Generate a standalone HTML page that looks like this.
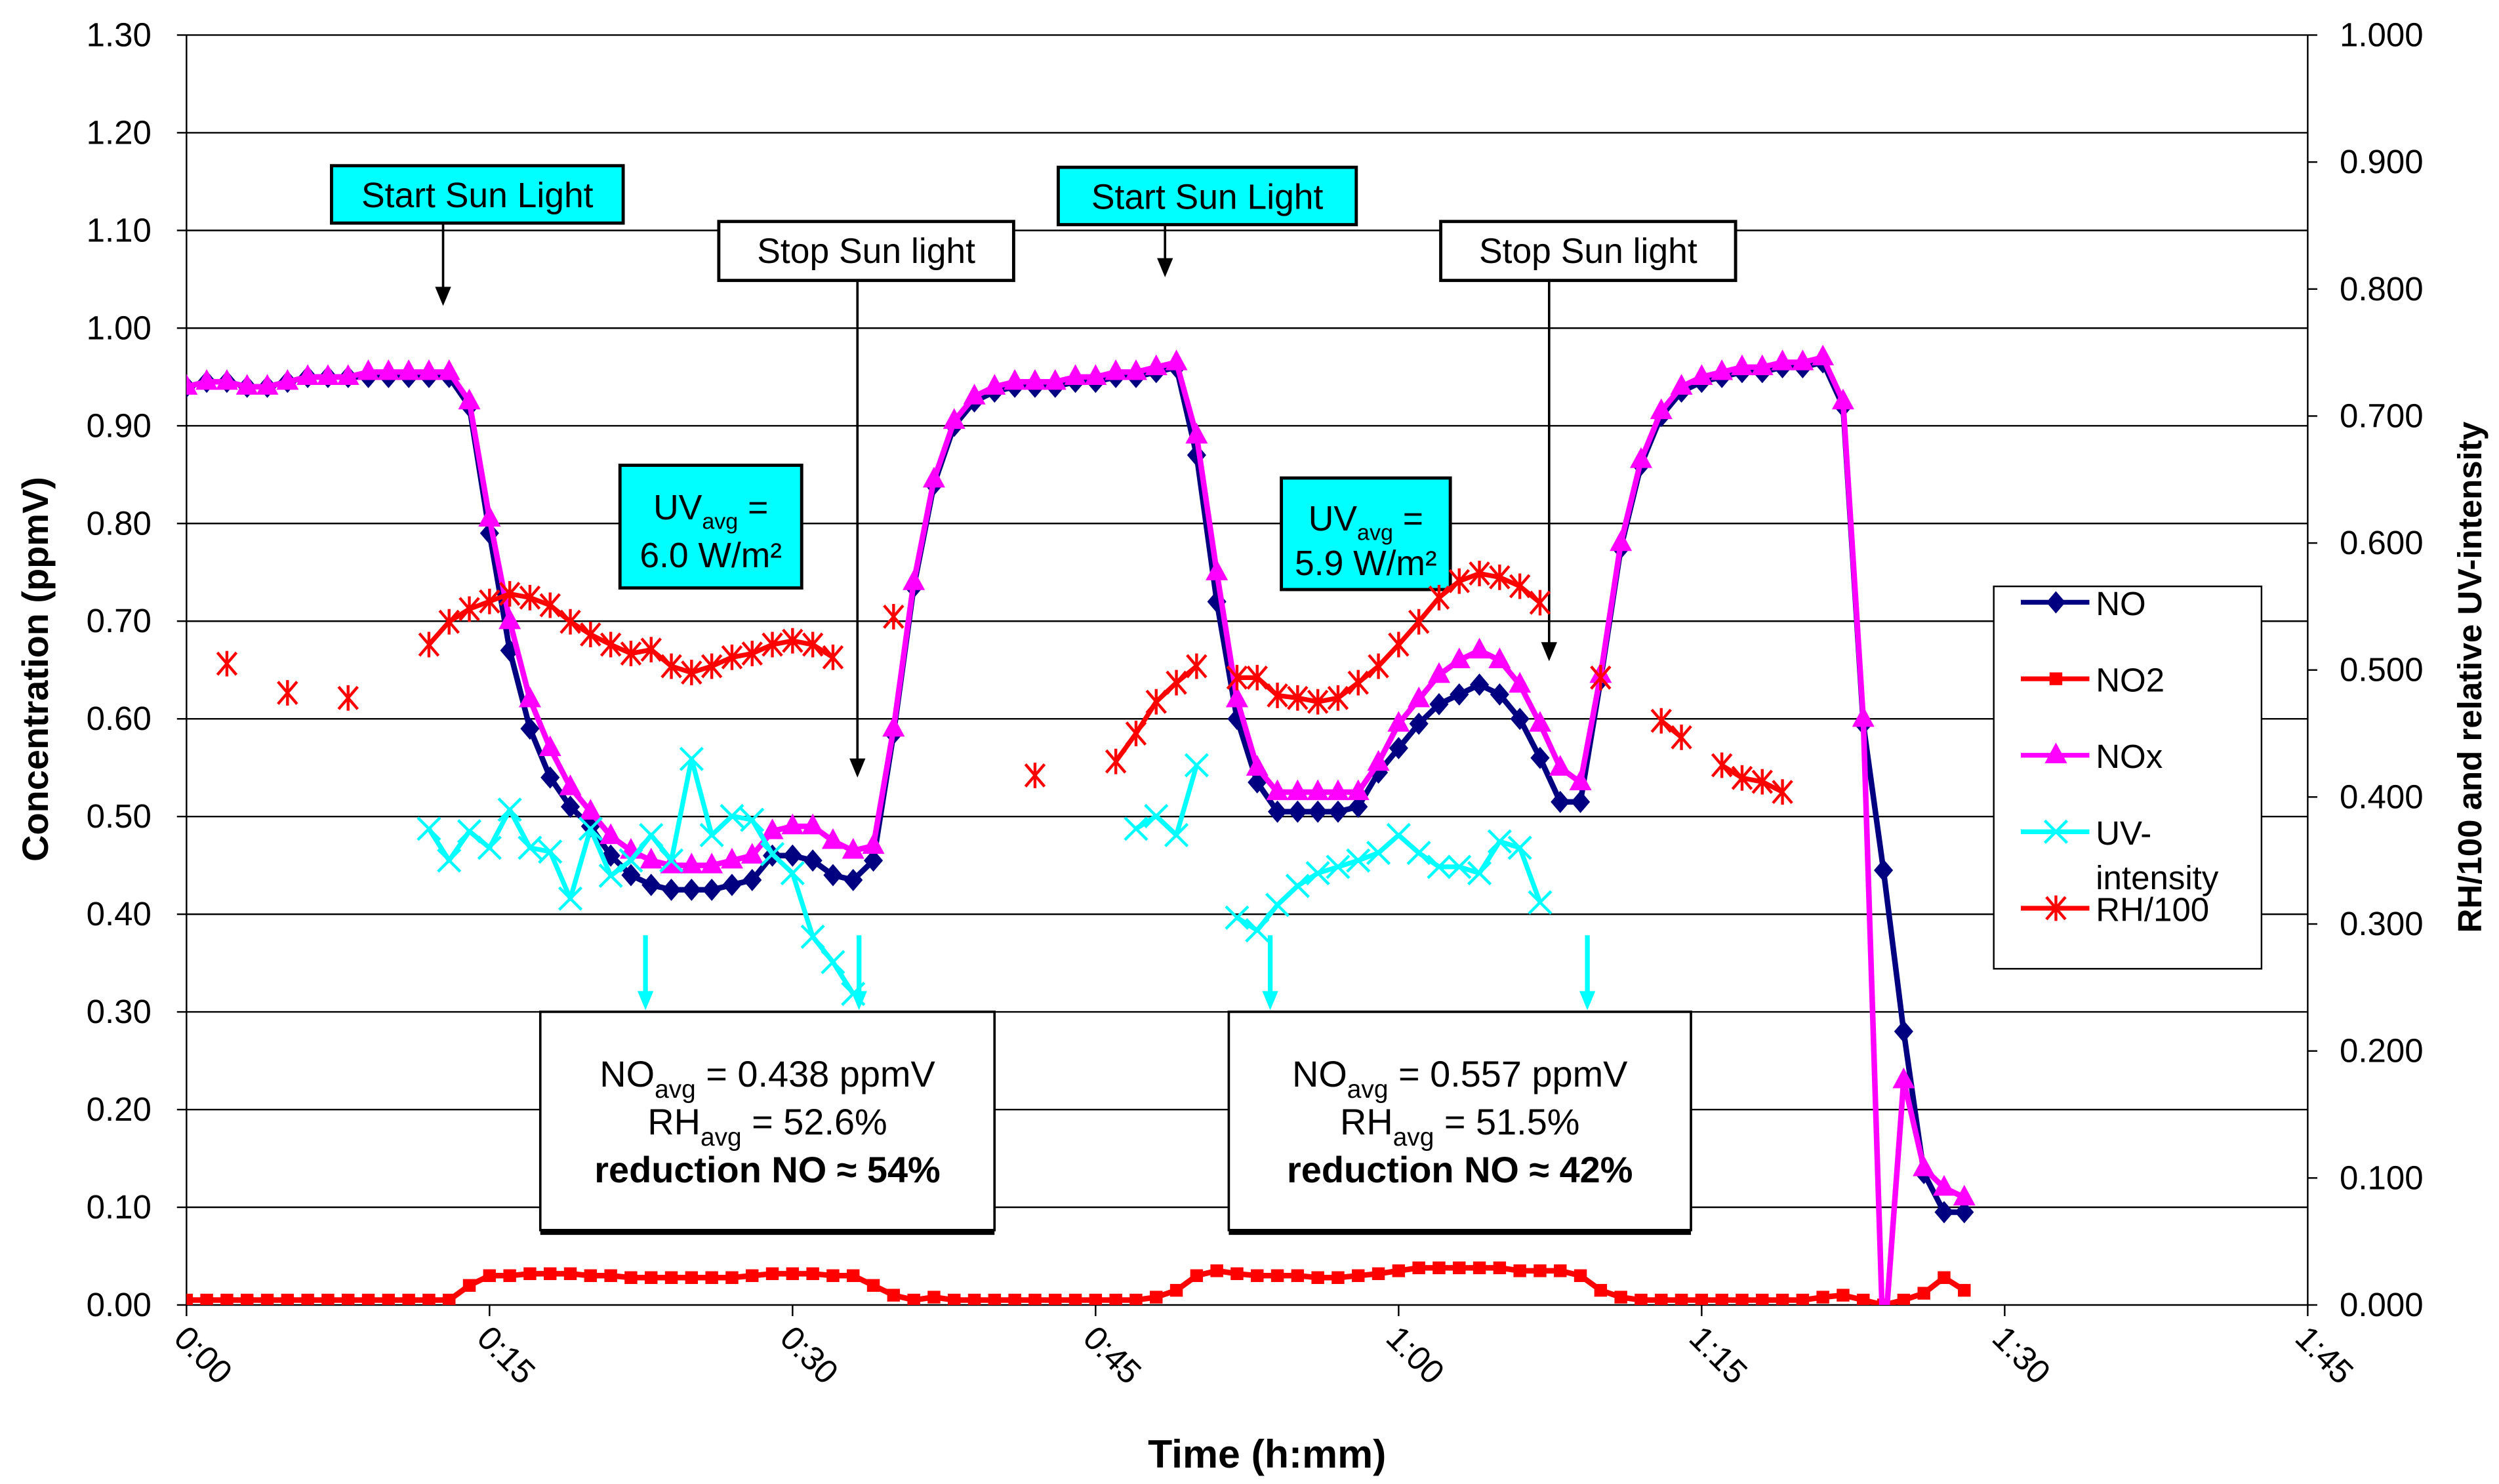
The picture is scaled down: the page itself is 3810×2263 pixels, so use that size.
<!DOCTYPE html>
<html><head><meta charset="utf-8"><style>
html,body{margin:0;padding:0;background:#fff;}
svg{display:block;font-family:"Liberation Sans",Arial,sans-serif;}
</style></head><body>
<svg id="chart" width="3810" height="2263" viewBox="0 0 1568 931.36" xmlns="http://www.w3.org/2000/svg">
<defs><clipPath id="pc"><rect x="117" y="22" width="1331" height="797"/></clipPath></defs>
<g id="grid"></g>
<g id="axes"></g>
<g id="annot"></g>
<g id="series" clip-path="url(#pc)"></g>
<text transform="translate(30,420) rotate(-90)" text-anchor="middle" font-size="23" font-weight="bold">Concentration (ppmV)</text>
<text transform="translate(1557,425) rotate(-90)" text-anchor="middle" font-size="21" font-weight="bold">RH/100 and relative UV-intensity</text>
<text x="795" y="921" text-anchor="middle" font-size="25" font-weight="bold">Time (h:mm)</text>
<g>
<rect x="1251" y="368" width="168" height="240" fill="#fff" stroke="#000" stroke-width="1"/>
<g id="leg"></g>
</g>
</svg>
<script>
const times = Array.from({length:89},(_,i)=>i);
const noVals = [0.94,0.945,0.945,0.94,0.94,0.945,0.95,0.95,0.95,0.95,0.95,0.95,0.95,0.95,0.92,0.79,0.67,0.59,0.54,0.51,0.49,0.46,0.44,0.43,0.425,0.425,0.425,0.43,0.435,0.46,0.46,0.455,0.44,0.435,0.455,0.585,0.735,0.84,0.9,0.925,0.935,0.94,0.94,0.94,0.945,0.945,0.95,0.95,0.955,0.96,0.87,0.72,0.6,0.535,0.505,0.505,0.505,0.505,0.51,0.545,0.57,0.595,0.615,0.625,0.635,0.625,0.6,0.56,0.515,0.515,0.64,0.775,0.86,0.91,0.935,0.945,0.95,0.955,0.955,0.96,0.96,0.965,0.92,0.595,0.445,0.28,0.135,0.095,0.095];
const noxVals = [0.94,0.945,0.945,0.94,0.94,0.945,0.95,0.95,0.95,0.955,0.955,0.955,0.955,0.955,0.925,0.805,0.7,0.62,0.57,0.53,0.505,0.48,0.465,0.455,0.45,0.45,0.45,0.455,0.46,0.485,0.49,0.49,0.475,0.465,0.47,0.59,0.74,0.845,0.905,0.93,0.94,0.945,0.945,0.945,0.95,0.95,0.955,0.955,0.96,0.965,0.89,0.75,0.62,0.55,0.525,0.525,0.525,0.525,0.525,0.555,0.595,0.62,0.645,0.66,0.67,0.66,0.635,0.595,0.55,0.535,0.645,0.78,0.865,0.915,0.94,0.95,0.955,0.96,0.96,0.965,0.965,0.97,0.925,0.6,-0.05,0.23,0.14,0.12,0.11];
const no2Vals = [0.005,0.005,0.005,0.005,0.005,0.005,0.005,0.005,0.005,0.005,0.005,0.005,0.005,0.005,0.02,0.03,0.03,0.032,0.032,0.032,0.03,0.03,0.028,0.028,0.028,0.028,0.028,0.028,0.03,0.032,0.032,0.032,0.03,0.03,0.02,0.01,0.005,0.008,0.005,0.005,0.005,0.005,0.005,0.005,0.005,0.005,0.005,0.005,0.008,0.015,0.03,0.035,0.032,0.03,0.03,0.03,0.028,0.028,0.03,0.032,0.035,0.038,0.038,0.038,0.038,0.038,0.035,0.035,0.035,0.03,0.015,0.008,0.005,0.005,0.005,0.005,0.005,0.005,0.005,0.005,0.005,0.008,0.01,0.005,0,0.005,0.012,0.028,0.015];
const uvVals = [null,null,null,null,null,null,null,null,null,null,null,null,0.375,0.35,0.373,0.36,0.39,0.36,0.357,0.32,0.375,0.338,0.35,0.37,0.35,0.43,0.37,0.385,0.382,0.355,0.34,0.29,0.27,0.245,null,null,null,null,null,null,null,null,null,null,null,null,null,0.375,0.385,0.37,0.425,null,0.305,0.295,0.315,0.33,0.34,0.345,0.35,0.356,0.37,0.356,0.345,0.345,0.34,0.365,0.36,0.317,null,null,null,null,null,null,null,null,null,null,null,null,null,null,null,null,null,null,null,null,null];
const rhVals = [null,null,0.505,null,null,0.482,null,null,0.478,null,null,null,0.52,0.538,0.548,0.554,0.56,0.557,0.551,0.538,0.528,0.52,0.513,0.516,0.503,0.498,0.503,0.51,0.513,0.52,0.523,0.52,0.51,null,null,0.542,null,null,null,null,null,null,0.417,null,null,null,0.428,0.45,0.475,0.49,0.503,null,0.494,0.494,0.48,0.478,0.475,0.478,0.49,0.503,0.52,0.538,0.557,0.57,0.576,0.573,0.566,0.553,null,null,0.494,null,null,0.46,0.447,null,0.425,0.415,0.412,0.404,null,null,null,null,null,null,null,null,null];
const yTicks = ["0.00","0.10","0.20","0.30","0.40","0.50","0.60","0.70","0.80","0.90","1.00","1.10","1.20","1.30"];
const y2Ticks = ["0.000","0.100","0.200","0.300","0.400","0.500","0.600","0.700","0.800","0.900","1.000"];
const xTicks = ["0:00","0:15","0:30","0:45","1:00","1:15","1:30","1:45"];

const NS="http://www.w3.org/2000/svg";
const L=117,R=1448,T=22,B=819;
const X=t=>L+(R-L)*t/105;
const Y=v=>B-(B-T)*v/1.3;
const Y2=v=>B-(B-T)*v/1.0;
function mk(tag,attrs,parent,txt){const e=document.createElementNS(NS,tag);for(const k in attrs)e.setAttribute(k,attrs[k]);if(txt!==undefined)e.textContent=txt;parent.appendChild(e);return e;}
const grid=document.getElementById('grid'),axes=document.getElementById('axes'),ser=document.getElementById('series'),annot=document.getElementById('annot');
yTicks.forEach((lab,i)=>{const v=parseFloat(lab);
 const g=mk('line',{x1:L,x2:R,y1:Y(v),y2:Y(v),stroke:'#000','stroke-width':1},grid);
 
 
 mk('line',{x1:L-6,x2:L,y1:Y(v),y2:Y(v),stroke:'#000'},axes);
 const t=mk('text',{x:95,y:Y(v)+7,'text-anchor':'end','font-size':21},axes,lab);
 
 
});
y2Ticks.forEach(lab=>{const v=parseFloat(lab);
 mk('line',{x1:R,x2:R+6,y1:Y2(v),y2:Y2(v),stroke:'#000'},axes);
 const t=mk('text',{x:1468,y:Y2(v)+7,'font-size':21},axes,lab);
 
 
});
mk('line',{x1:L,x2:L,y1:T,y2:B,stroke:'#000'},axes);
mk('line',{x1:R,x2:R,y1:T,y2:B,stroke:'#000'},axes);
xTicks.forEach((lab,i)=>{const x=X(i*15);
 mk('line',{x1:x,x2:x,y1:B,y2:B+7,stroke:'#000'},axes);
 const t=mk('text',{transform:`translate(${x-9},${B+22}) rotate(45)`,'font-size':21},axes,lab);
 
 
});
function line(vals,yf,color,w,name){let d='',pen=false;
 vals.forEach((v,i)=>{if(v===null){pen=false;return;}d+=(pen?'L':'M')+X(times[i])+','+yf(v)+' ';pen=true;});
 const p=mk('path',{d:d,fill:'none',stroke:color,'stroke-width':w,'stroke-linejoin':'round'},ser);
 
 }
function marker(type,x,y,color,parent){
 if(type==='diamond')return mk('path',{d:`M${x},${y-7}L${x+6},${y}L${x},${y+7}L${x-6},${y}Z`,fill:color},parent);
 if(type==='square')return mk('rect',{x:x-4,y:y-4,width:8,height:8,fill:color},parent);
 if(type==='tri')return mk('path',{d:`M${x},${y-8}L${x+7},${y+5}L${x-7},${y+5}Z`,fill:color},parent);
 if(type==='x')return mk('path',{d:`M${x-7},${y-7}L${x+7},${y+7}M${x+7},${y-7}L${x-7},${y+7}`,stroke:color,'stroke-width':1.8},parent);
 if(type==='star')return mk('path',{d:`M${x-6},${y-7}L${x+6},${y+7}M${x+6},${y-7}L${x-6},${y+7}M${x},${y-8}L${x},${y+8}`,stroke:color,'stroke-width':1.8},parent);}
function pts(vals,yf,type,color,name){vals.forEach((v,i)=>{if(v===null)return;const m=marker(type,X(times[i]),yf(v),color,ser);
 
 });}
line(no2Vals,Y,'#ff0000',3.5,'no2-line');pts(no2Vals,Y,'square','#ff0000','no2-point');
line(noVals,Y,'#000080',3.5,'no-line');pts(noVals,Y,'diamond','#000080','no-point');
line(noxVals,Y,'#ff00ff',3.5,'nox-line');pts(noxVals,Y,'tri','#ff00ff','nox-point');
line(uvVals,Y2,'#00ffff',3,'uv-line');pts(uvVals,Y2,'x','#00ffff','uv-point');
line(rhVals,Y2,'#ff0000',3,'rh-line');pts(rhVals,Y2,'star','#ff0000','rh-point');

function box(x,y,w,h,fill,name,lines,fs,shadow){const g=mk('g',{},annot);
 
 
 mk('rect',{x:x,y:y,width:w,height:h,fill:fill,stroke:'#000','stroke-width':shadow?1.5:2},g);
 if(shadow)mk('line',{x1:x,x2:x+w,y1:y+h+1.5,y2:y+h+1.5,stroke:'#000','stroke-width':3},g);
 lines.forEach(l=>{const t=mk('text',{x:x+w/2,y:l.y,'text-anchor':'middle','font-size':fs,'font-weight':l.b?'bold':'normal'},g);t.innerHTML=l.h;});}
function arrow(x,y1,y2,color,w,name){const g=mk('g',{},annot);
 
 
 mk('line',{x1:x,x2:x,y1:y1,y2:y2-10,stroke:color,'stroke-width':w},g);
 mk('path',{d:`M${x-5},${y2-12}L${x+5},${y2-12}L${x},${y2}Z`,fill:color},g);}
box(208,104,183,36,'#00ffff','start-sun-light-label-1',[{y:130,h:'Start Sun Light'}],22);
box(664,105,187,36,'#00ffff','start-sun-light-label-2',[{y:131,h:'Start Sun Light'}],22);
box(451,139,185,37,'#fff','stop-sun-light-label-1',[{y:165,h:'Stop Sun light'}],22);
box(904,139,185,37,'#fff','stop-sun-light-label-2',[{y:165,h:'Stop Sun light'}],22);
arrow(278,140,192,'#000',1.5,'start-arrow-1');
arrow(731,141,174,'#000',1.5,'start-arrow-2');
arrow(538,176,488,'#000',1.5,'stop-arrow-1');
arrow(972,176,415,'#000',1.5,'stop-arrow-2');
box(389,292,114,77,'#00ffff','uv-avg-box-1',[{y:326,h:'UV<tspan font-size="14" dy="6">avg</tspan><tspan dy="-6"> =</tspan>'},{y:356,h:'6.0 W/m²'}],22);
box(804,300,106,70,'#00ffff','uv-avg-box-2',[{y:333,h:'UV<tspan font-size="14" dy="6">avg</tspan><tspan dy="-6"> =</tspan>'},{y:361,h:'5.9 W/m²'}],22);
arrow(405,587,634,'#00ffff',3,'cyan-arrow-1');
arrow(539,587,634,'#00ffff',3,'cyan-arrow-2');
arrow(797,587,634,'#00ffff',3,'cyan-arrow-3');
arrow(996,587,634,'#00ffff',3,'cyan-arrow-4');
box(339,635,285,137,'#fff','no-avg-box-1',[{y:682,h:'NO<tspan font-size="16" dy="7">avg</tspan><tspan dy="-7"> = 0.438 ppmV</tspan>'},{y:712,h:'RH<tspan font-size="16" dy="7">avg</tspan><tspan dy="-7"> = 52.6%</tspan>'},{y:742,b:1,h:'reduction NO ≈ 54%'}],23,true);
box(771,635,290,137,'#fff','no-avg-box-2',[{y:682,h:'NO<tspan font-size="16" dy="7">avg</tspan><tspan dy="-7"> = 0.557 ppmV</tspan>'},{y:712,h:'RH<tspan font-size="16" dy="7">avg</tspan><tspan dy="-7"> = 51.5%</tspan>'},{y:742,b:1,h:'reduction NO ≈ 42%'}],23,true);

const leg=document.getElementById('leg');
const legItems=[['NO','#000080','diamond',378],['NO2','#ff0000','square',426],['NOx','#ff00ff','tri',474],['UV-','#00ffff','x',522],['RH/100','#ff0000','star',570]];
legItems.forEach(([lab,c,ty,y])=>{const g=mk('g',{},leg);
 
 
 mk('line',{x1:1268,x2:1311,y1:y,y2:y,stroke:c,'stroke-width':3},g);
 marker(ty,1290,y,c,g);
 mk('text',{x:1315,y:y+8,'font-size':21},g,lab);
 if(lab==='UV-')mk('text',{x:1315,y:y+36,'font-size':21},g,'intensity');});
</script>
</body></html>
